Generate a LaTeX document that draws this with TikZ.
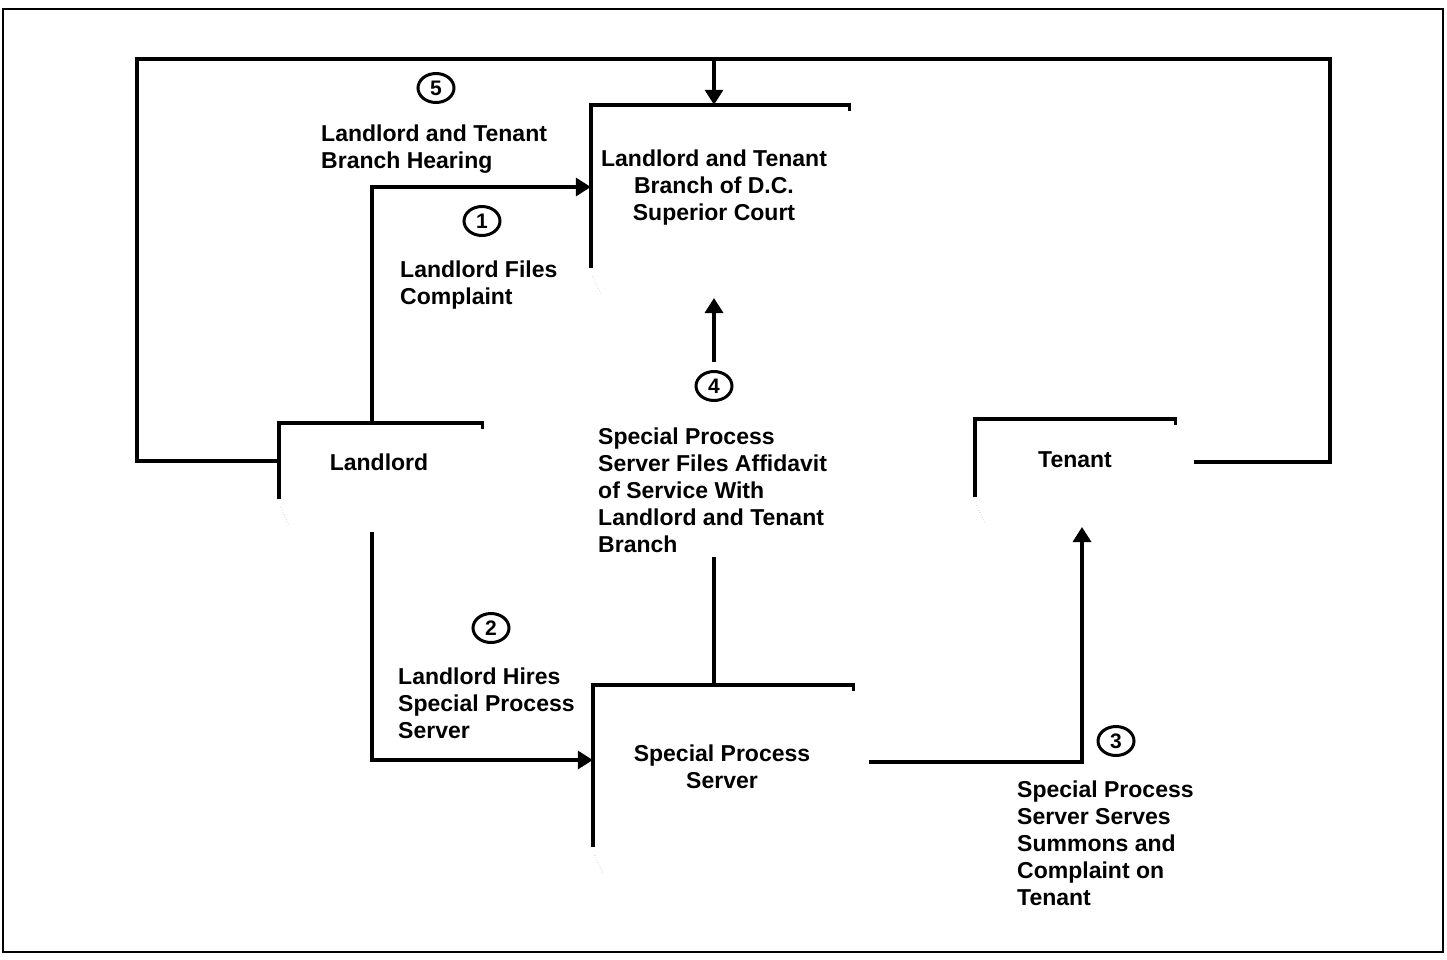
\documentclass[tikz,border=0pt]{standalone}
\usepackage{fontspec}
\setmainfont{Liberation Sans}
\usetikzlibrary{arrows.meta,shapes.geometric}
\begin{document}
\begin{tikzpicture}[x=1pt,y=-1pt,
  lbl/.style={font=\bfseries\fontsize{23}{27}\selectfont, align=left, inner sep=0pt, anchor=north west},
  boxtxt/.style={font=\bfseries\fontsize{23}{27}\selectfont, align=center, inner sep=0pt},
  box/.style={rectangle, draw=none, inner sep=0pt},
  num/.style={ellipse, draw, line width=3pt, minimum width=36pt, minimum height=29pt, inner sep=0pt, font=\bfseries\fontsize{21}{21}\selectfont},
  conn/.style={line width=3.4pt},
  arr/.style={conn, -{Triangle[length=15pt,width=18pt]}},
  faint/.style={gray!60, line width=0.6pt, dotted}
]
\useasboundingbox (0,0) rectangle (1447,959);
\draw[line width=1.8pt] (3,9) rectangle (1443,952);

% boxes
\node[box, minimum width=258pt, minimum height=163pt] (court) at (720,186.5) {};
\node[boxtxt] (courttxt) at (714,188) {Landlord and Tenant\\Branch of D.C.\\Superior Court};
\node[box, minimum width=203pt, minimum height=76pt] (landlord) at (380.5,461) {};
\node[boxtxt] (landlordtxt) at (379,462) {Landlord};
\node[box, minimum width=200pt, minimum height=78pt] (tenant) at (1075,458) {};
\node[boxtxt] (tenanttxt) at (1075,460) {Tenant};
\node[box, minimum width=260pt, minimum height=162pt] (sps) at (723,766) {};
\node[boxtxt] (spstxt) at (722,766.5) {Special Process\\Server};

% partial box outlines
\foreach \b in {court,landlord,tenant,sps}{
  \draw[conn] (\b.south west) -- (\b.north west) -- (\b.north east) -- ++(0,6);
  \draw[faint] ([shift={(2,8)}]\b.south west) -- ++(8,18);
}

% step labels
\node[num] (n5) at (436,88) {5};
\node[num] (n1) at (482,221) {1};
\node[num] (n4) at (714,386) {4};
\node[num] (n2) at (491,628) {2};
\node[num] (n3) at (1116,741) {3};

\node[lbl] (t5) at (321,125) {Landlord and Tenant\\Branch Hearing};
\node[lbl] (t1) at (400,261) {Landlord Files\\Complaint};
\node[lbl] (t4) at (598,428) {Special Process\\Server Files Affidavit\\of Service With\\Landlord and Tenant\\Branch};
\node[lbl] (t2) at (398,668) {Landlord Hires\\Special Process\\Server};
\node[lbl] (t3) at (1017,781) {Special Process\\Server Serves\\Summons and\\Complaint on\\Tenant};

% connector coordinates
\coordinate (loopTL) at (137,59);
\coordinate (loopTR) at (1330,59);
\coordinate (downT) at (714,59);
\coordinate (tenR) at (1194,462);
\coordinate (a2start) at (372,532);
\coordinate (a3start) at (869,762);
\coordinate (a3end) at (1082,527);
\coordinate (a4a) at (714,557);
\coordinate (a4b) at (714,362);
\coordinate (a4c) at (714,298);

% 5: hearing loop
\draw[conn] (landlord.west) -- (loopTL |- landlord.west) -- (loopTL) -- (loopTR) -- (loopTR |- tenR) -- (tenR);
\draw[arr] (downT) -- (downT |- court.north);
% 1: files complaint
\draw[arr] (372,0 |- landlord.north) -- (372,187) -- (court.west |- 0,187);
% 2: hires server
\draw[arr] (a2start) -- (372,760) -- (sps.west |- 0,760);
% 3: serves tenant
\draw[arr] (a3start) -- (a3start -| a3end) -- (a3end);
% 4: affidavit
\draw[conn] (a4a |- sps.north) -- (a4a);
\draw[arr] (a4b) -- (a4c);
\end{tikzpicture}
\end{document}
